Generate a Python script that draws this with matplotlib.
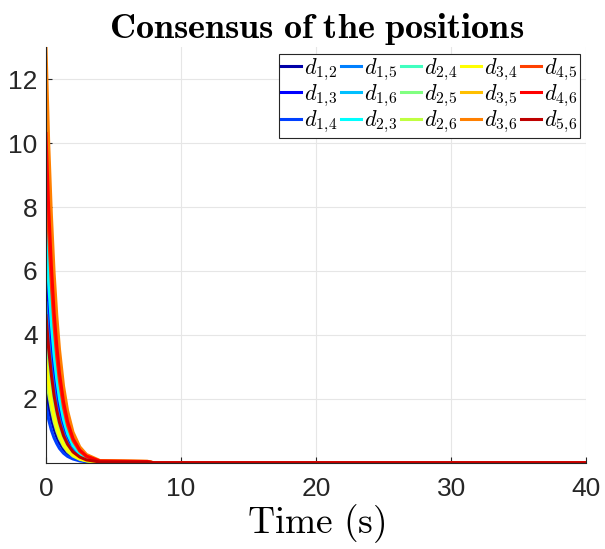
import numpy as np
import matplotlib
matplotlib.use("Agg")
import matplotlib.pyplot as plt

plt.rcParams['mathtext.fontset'] = 'cm'
plt.rcParams['font.family'] = ['Liberation Sans', 'DejaVu Sans']

# time samples (s) and distance readings for each pair
t = [0, 0.2, 0.4, 0.6, 0.8, 1.0, 1.3, 1.6, 2.0, 2.5, 3.0, 4.0, 7.5, 8.0, 40]

labels = ['d_{1,\\!2}', 'd_{1,\\!3}', 'd_{1,\\!4}', 'd_{1,\\!5}', 'd_{1,\\!6}',
          'd_{2,\\!3}', 'd_{2,\\!4}', 'd_{2,\\!5}', 'd_{2,\\!6}', 'd_{3,\\!4}',
          'd_{3,\\!5}', 'd_{3,\\!6}', 'd_{4,\\!5}', 'd_{4,\\!6}', 'd_{5,\\!6}']

d12 = [2.3, 1.75, 1.35, 1.05, 0.80, 0.62, 0.42, 0.28, 0.17, 0.09, 0.05, 0.015, 0.01, 0.0, 0.0]
d13 = [6.0, 4.6, 3.55, 2.75, 2.1, 1.62, 1.1, 0.74, 0.44, 0.23, 0.12, 0.035, 0.02, 0.0, 0.0]
d14 = [1.8, 1.35, 1.02, 0.78, 0.60, 0.45, 0.30, 0.20, 0.12, 0.06, 0.03, 0.01, 0.01, 0.0, 0.0]
d15 = [5.0, 3.85, 2.95, 2.3, 1.75, 1.35, 0.92, 0.62, 0.37, 0.19, 0.10, 0.03, 0.02, 0.0, 0.0]
d16 = [8.0, 6.15, 4.75, 3.65, 2.8, 2.2, 1.48, 1.0, 0.6, 0.31, 0.16, 0.045, 0.03, 0.0, 0.0]
d23 = [7.3, 5.6, 4.35, 3.35, 2.6, 2.0, 1.35, 0.91, 0.54, 0.28, 0.15, 0.04, 0.03, 0.0, 0.0]
d24 = [4.0, 3.1, 2.4, 1.83, 1.42, 1.1, 0.74, 0.5, 0.3, 0.16, 0.08, 0.02, 0.02, 0.0, 0.0]
d25 = [3.6, 2.8, 2.15, 1.65, 1.27, 0.98, 0.67, 0.45, 0.27, 0.14, 0.07, 0.02, 0.02, 0.0, 0.0]
d26 = [2.8, 2.15, 1.67, 1.28, 0.99, 0.76, 0.52, 0.35, 0.21, 0.11, 0.06, 0.015, 0.01, 0.0, 0.0]
d34 = [3.2, 2.47, 1.9, 1.47, 1.13, 0.87, 0.59, 0.4, 0.24, 0.12, 0.065, 0.02, 0.02, 0.0, 0.0]
d35 = [11.0, 8.5, 6.55, 5.05, 3.9, 3.0, 2.05, 1.38, 0.82, 0.43, 0.22, 0.06, 0.04, 0.0, 0.0]
d36 = [13.0, 10.0, 7.75, 5.95, 4.6, 3.55, 2.4, 1.63, 0.96, 0.5, 0.26, 0.07, 0.05, 0.0, 0.0]
d45 = [9.3, 7.15, 5.55, 4.25, 3.3, 2.55, 1.72, 1.16, 0.69, 0.36, 0.19, 0.05, 0.04, 0.0, 0.0]
d46 = [10.3, 7.95, 6.15, 4.7, 3.65, 2.8, 1.9, 1.29, 0.76, 0.4, 0.21, 0.055, 0.04, 0.0, 0.0]
d56 = [4.6, 3.55, 2.75, 2.1, 1.63, 1.26, 0.85, 0.58, 0.34, 0.18, 0.09, 0.025, 0.02, 0.0, 0.0]

series = [d12, d13, d14, d15, d16, d23, d24, d25, d26, d34, d35, d36, d45, d46, d56]

colors = ['#0000a8', '#0000ff', '#0040ff', '#0080ff', '#00bfff',
          '#00ffff', '#40ffbf', '#80ff80', '#bfff40', '#ffff00',
          '#ffbf00', '#ff8000', '#ff4000', '#ff0000', '#bf0000']

fig = plt.figure(figsize=(6.05, 5.49), dpi=100)
ax = fig.add_axes([0.076, 0.157, 0.893, 0.757])

for y, c, lab in zip(series, colors, labels):
    ax.plot(t, y, color=c, lw=2.2, label='$' + lab + '$')

ax.set_xlim(0, 40)
ax.set_ylim(0, 13)
ax.set_xticks([0, 10, 20, 30, 40])
ax.set_yticks([2, 4, 6, 8, 10, 12])
ax.tick_params(direction='in', labelsize=19, colors='#262626', length=4)
ax.tick_params(axis='x', pad=10)
ax.tick_params(axis='y', pad=6)
ax.grid(True, color='#e6e6e6', lw=0.8)
ax.set_axisbelow(True)
for s in ['top', 'right']:
    ax.spines[s].set_visible(False)
for s in ['left', 'bottom']:
    ax.spines[s].set_color('#262626')
    ax.spines[s].set_linewidth(0.8)

ax.set_title(r'$\mathbf{Consensus\ of\ the\ positions}$', fontsize=26, pad=5)
ax.set_xlabel('$\\mathrm{Time\\ (s)}$', fontsize=27, labelpad=1)

leg = ax.legend(ncol=5, loc='upper right', fontsize=16, handlelength=0.9,
                handletextpad=0.15, columnspacing=0.15, labelspacing=0.0,
                borderpad=0.1, borderaxespad=0.3, fancybox=False, framealpha=1)
leg.get_frame().set_edgecolor('#262626')
leg.get_frame().set_linewidth(0.8)

fig.savefig('out.png', dpi=100)
